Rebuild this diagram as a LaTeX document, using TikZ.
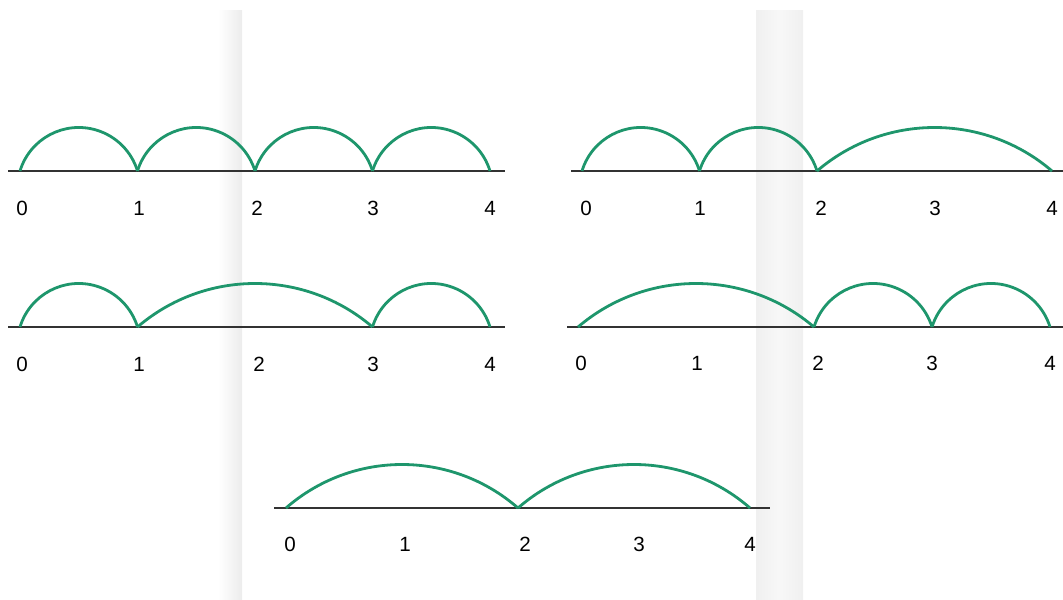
\documentclass[tikz,border=0pt]{standalone}
\usepackage{fontspec}
\setmainfont{Liberation Sans}
\usetikzlibrary{positioning, calc}
\definecolor{hopgreen}{RGB}{30,150,108}
\definecolor{axisgray}{RGB}{50,50,50}
\definecolor{bandgray}{RGB}{236,236,236}

\begin{document}
\begin{tikzpicture}[
    x=0.5pt, y=0.5pt,
    numline/.style={draw=axisgray, line width=1pt},
    hop/.style={draw=hopgreen, line width=1.4pt},
    numlabel/.style={font=\fontsize{10.3}{12}\selectfont, inner sep=0pt, text=black}
]
\useasboundingbox (0,0) rectangle (1063,599);

% faint background bands
\shade[left color=white, right color=bandgray] (218,0) rectangle (242,588);
\shade[left color=bandgray!80, right color=bandgray!80, middle color=bandgray!40] (756,0) rectangle (803,588);

% number lines
\draw[numline] (8,428) -- (505,428);
\draw[numline] (571,428) -- (1063,428);
\draw[numline] (8,272) -- (505,272);
\draw[numline] (567,272) -- (1063,272);
\draw[numline] (274,91) -- (770,91);

% points on the lines
\coordinate (a0) at (20,428);  \coordinate (a1) at (137.5,428); \coordinate (a2) at (255,428);
\coordinate (a3) at (372.5,428); \coordinate (a4) at (490,428);
\coordinate (b0) at (582,428); \coordinate (b1) at (699.5,428); \coordinate (b2) at (817,428);
\coordinate (b4) at (1052,428);
\coordinate (c0) at (20,272);  \coordinate (c1) at (137.5,272); \coordinate (c3) at (372.5,272);
\coordinate (c4) at (490,272);
\coordinate (d0) at (578,272); \coordinate (d2) at (814,272); \coordinate (d3) at (932,272);
\coordinate (d4) at (1050,272);
\coordinate (e0) at (286,91);  \coordinate (e2) at (518,91);  \coordinate (e4) at (750,91);

% hops: circular arcs of equal height
\foreach \from/\to in {a0/a1, a1/a2, a2/a3, a3/a4, b0/b1, b1/b2, b2/b4,
                       c0/c1, c1/c3, c3/c4, d0/d2, d2/d3, d3/d4, e0/e2, e2/e4}
  \draw[hop] let \p1 = ($(\to)-(\from)$),
                 \n1 = {0.5*\x1},
                 \n2 = {(\n1*\n1 + 21.75*21.75)/(2*21.75)},
                 \n3 = {asin(\n1/\n2)} in
    (\from) arc[start angle=90+\n3, end angle=90-\n3, radius=\n2];

% labels
\foreach \n/\x in {0/22, 1/139, 2/257, 3/373, 4/490}
  \node[numlabel] (la\n) at (\x,391) {\n};
\foreach \n/\x in {0/586, 1/700, 2/821, 3/935, 4/1052}
  \node[numlabel] (lb\n) at (\x,391) {\n};
\foreach \n/\x in {0/22, 1/139, 2/259, 3/373, 4/490}
  \node[numlabel] (lc\n) at (\x,235) {\n};
\foreach \n/\x in {0/581, 1/697, 2/818, 3/932, 4/1050}
  \node[numlabel] (ld\n) at (\x,236) {\n};
\foreach \n/\x in {0/290, 1/405, 2/525, 3/639, 4/750}
  \node[numlabel] (le\n) at (\x,55) {\n};

\end{tikzpicture}
\end{document}
